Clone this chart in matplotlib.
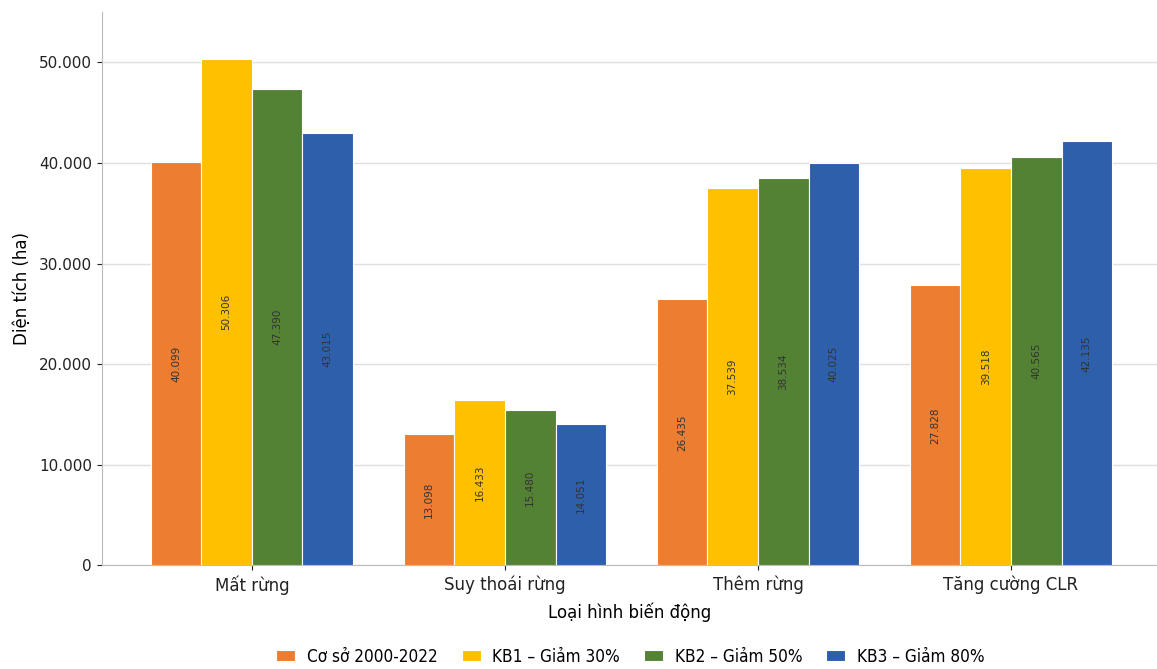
import numpy as np
import matplotlib
matplotlib.use("Agg")
import matplotlib.pyplot as plt
from matplotlib.ticker import FuncFormatter

categories = ["Mất rừng", "Suy thoái rừng", "Thêm rừng", "Tăng cường CLR"]
series_names = ["Cơ sở 2000-2022", "KB1 – Giảm 30%", "KB2 – Giảm 50%", "KB3 – Giảm 80%"]
co_so = [40099, 13098, 26435, 27828]
kb1 = [50306, 16433, 37539, 39518]
kb2 = [47390, 15480, 38534, 40565]
kb3 = [43015, 14051, 40025, 42135]
colors = ["#ED7D31", "#FFC000", "#548235", "#2E5FAA"]


def dot_fmt(v):
    return f"{int(round(v)):,}".replace(",", ".")


fig = plt.figure(figsize=(11.57, 6.69), dpi=100)
ax = fig.add_axes([0.088, 0.155, 0.912, 0.827])

x = np.arange(len(categories))
w = 0.2
for i, (vals, name, c) in enumerate(zip([co_so, kb1, kb2, kb3], series_names, colors)):
    pos = x + (i - 1.5) * w
    bars = ax.bar(pos, vals, w, color=c, edgecolor="white", linewidth=0.8, label=name, zorder=3)
    for b, v in zip(bars, vals):
        ax.text(b.get_x() + b.get_width() / 2, v / 2, dot_fmt(v), rotation=90,
                ha="center", va="center", fontsize=7.5, color="#333333", zorder=4)

ax.set_xlim(-0.593, 3.577)
ax.set_ylim(0, 55000)
ax.set_yticks([0, 10000, 20000, 30000, 40000, 50000])
ax.yaxis.set_major_formatter(FuncFormatter(lambda v, p: dot_fmt(v)))
ax.set_xticks(x)
ax.set_xticklabels(categories, fontsize=12)
ax.tick_params(axis="y", labelsize=11)
ax.grid(axis="y", color="#e0e0e0", linewidth=1, zorder=0)
ax.set_axisbelow(True)
for s in ["top", "right"]:
    ax.spines[s].set_visible(False)
for s in ["left", "bottom"]:
    ax.spines[s].set_color("#bbbbbb")
ax.tick_params(colors="#222222")
ax.set_ylabel("Diện tích (ha)", fontsize=12, labelpad=6)
ax.set_xlabel("Loại hình biến động", fontsize=12, labelpad=6)

fig.legend(loc="lower center", bbox_to_anchor=(0.545, -0.018), ncol=4, frameon=False,
           prop={"family": "DejaVu Sans", "stretch": "condensed", "size": 12.3},
           handlelength=1.1, handleheight=0.6, handletextpad=0.7, columnspacing=1.4)

fig.savefig("out.png", dpi=100)
